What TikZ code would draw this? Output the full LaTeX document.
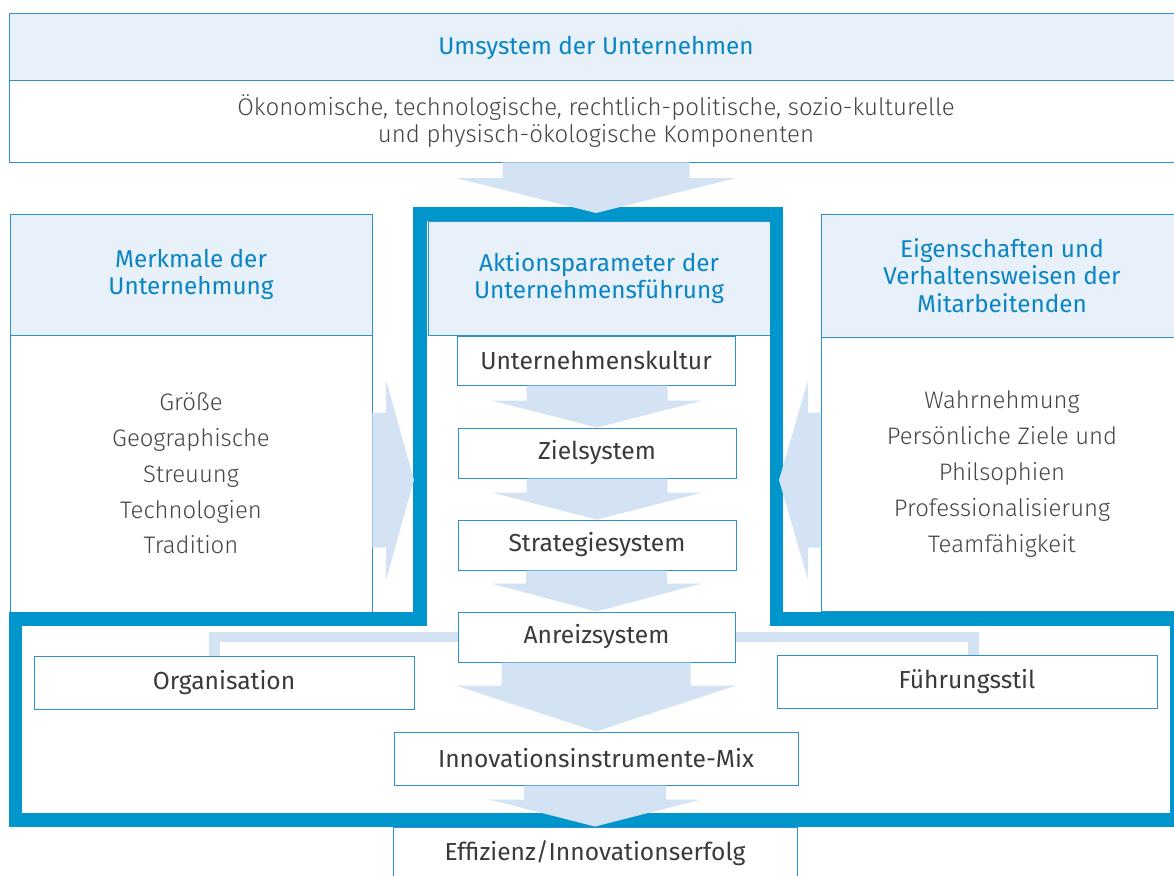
\documentclass[tikz,border=0pt]{standalone}
\usepackage{fontspec}
\setmainfont{Fira Sans Light}[BoldFont={Fira Sans}]
\usetikzlibrary{calc}

\definecolor{rahmenblau}{HTML}{0096CB}
\definecolor{pfeilblau}{HTML}{D3E3F3}
\definecolor{kopfblau}{HTML}{E8F0FA}
\definecolor{kopftext}{HTML}{0A85C3}
\definecolor{linie}{HTML}{2F90D0}
\definecolor{feldtext}{HTML}{3A3A3A}
\definecolor{rumpftext}{HTML}{454545}

\newcommand\pxu{0.025cm}
\newcommand\pfeilrunter[5]{\fill[pfeil] let \p1=(#1), \p2=(#2) in
  ({\x2-#3*\pxu},\y1) -- ({\x2+#3*\pxu},\y1) -- ({\x2+#3*\pxu},{\y2+#5*\pxu}) -- ({\x2+#4*\pxu},{\y2+#5*\pxu})
  -- (\x2,\y2) -- ({\x2-#4*\pxu},{\y2+#5*\pxu}) -- ({\x2-#3*\pxu},{\y2+#5*\pxu}) -- cycle;}
\newcommand\pfeilseite[5]{\fill[pfeil] let \p1=(#1), \p2=(#2) in
  (\x1,{\y2-#3*\pxu}) -- (\x1,{\y2+#3*\pxu}) -- ({\x2+(#5)*\pxu},{\y2+#3*\pxu}) -- ({\x2+(#5)*\pxu},{\y2+#4*\pxu})
  -- (\x2,\y2) -- ({\x2+(#5)*\pxu},{\y2-#4*\pxu}) -- ({\x2+(#5)*\pxu},{\y2-#3*\pxu}) -- cycle;}

\begin{document}
\begin{tikzpicture}[x=0.025cm, y=-0.025cm]
\tikzset{groesse/.style 2 args={minimum width=#1*\pxu, minimum height=#2*\pxu, inner sep=0pt},
  kopf/.style={draw=linie, line width=0.7pt, fill=kopfblau, text=kopftext, align=center, font=\bfseries\fontsize{17.3}{19.5}\selectfont},
  rumpf/.style={draw=linie, line width=0.7pt, fill=white, text=rumpftext, align=center, font=\fontsize{17}{25.5}\selectfont},
  umrumpfstil/.style={draw=linie, line width=0.7pt, fill=white, text=rumpftext, align=center, font=\fontsize{17.1}{19.8}\selectfont},
  feld/.style={draw=linie, line width=0.7pt, fill=white, text=feldtext, font=\bfseries\fontsize{17.5}{19.5}\selectfont},
  pfeil/.style={fill=pfeilblau},
  band/.style={draw=pfeilblau, line width=7.8pt},
  rahmen/.style={draw=rahmenblau, line width=9.6pt, miter limit=4}}
\clip (0,0) rectangle (1174,875);
\node[kopf, groesse={1174}{68}] (umkopf) at (596,47.5) {Umsystem der Unternehmen};
\node[umrumpfstil, groesse={1174}{82}] (umrumpf) at (596,121) {Ökonomische, technologische, rechtlich-politische, sozio-kulturelle\\und physisch-ökologische Komponenten};
\node[kopf, groesse={362}{121}] (merkkopf) at (191,274.5) {Merkmale der\\Unternehmung};
\node[rumpf, groesse={362}{277}] (merkrumpf) at (191,473.5) {Größe\\Geographische\\Streuung\\Technologien\\Tradition};
\node[kopf, groesse={342}{114}] (aktkopf) at (599,278) {Aktionsparameter der\\Unternehmensführung};
\node[kopf, groesse={362}{123}] (eigenkopf) at (1002,275.5) {Eigenschaften und\\Verhaltensweisen der\\Mitarbeitenden};
\node[rumpf, groesse={362}{274}] (eigenrumpf) at (1002,474) {Wahrnehmung\\Persönliche Ziele und\\Philsophien\\Professionalisierung\\Teamfähigkeit};
\node[feld, groesse={278}{49}] (kultur) at (596,360.5) {Unternehmenskultur};
\node[feld, groesse={278}{50}] (ziel) at (597,453) {Zielsystem};
\node[feld, groesse={278}{50}] (strategie) at (597,545) {Strategiesystem};
\node[feld, groesse={277}{50}] (anreiz) at (596.5,637) {Anreizsystem};
\node[feld, groesse={380}{53}] (orga) at (224,682.5) {Organisation};
\node[feld, groesse={380}{53}] (fuehrung) at (967,681.5) {Führungsstil};
\node[feld, groesse={404}{53}] (innov) at (596,758.5) {Innovationsinstrumente-Mix};
\node[feld, groesse={404}{53}] (erfolg) at (595,853.5) {Effizienz/Innovationserfolg};
\draw[rahmen] (420,214) -- (776.5,214) -- (776.5,619) -- (1176.75,619) -- (1176.75,820) -- (15.5,820) -- (15.5,619) -- (420,619) -- cycle;
\coordinate (obenspitze) at (596,213);
\coordinate (linksspitze) at (414,480);
\coordinate (rechtsspitze) at (779,480);
\pfeilrunter{umrumpf.south}{obenspitze}{93.5}{140}{35}
\pfeilrunter{kultur.south}{ziel.north}{70.5}{105.5}{27}
\pfeilrunter{ziel.south}{strategie.north}{70.5}{105.5}{27}
\pfeilrunter{strategie.south}{anreiz.north}{70.5}{105.5}{28}
\pfeilrunter{anreiz.south}{innov.north}{94.5}{140}{46}
\pfeilrunter{innov.south}{erfolg.north}{71}{106}{27}
\pfeilseite{merkrumpf.east}{linksspitze}{67.5}{100}{-28}
\pfeilseite{eigenrumpf.west}{rechtsspitze}{67.5}{100}{29}
\draw[band] (anreiz.west) -| ($(orga.north)+(-9.5,0)$);
\draw[band] (anreiz.east) -| ($(fuehrung.north)+(6,0)$);
\end{tikzpicture}
\end{document}
